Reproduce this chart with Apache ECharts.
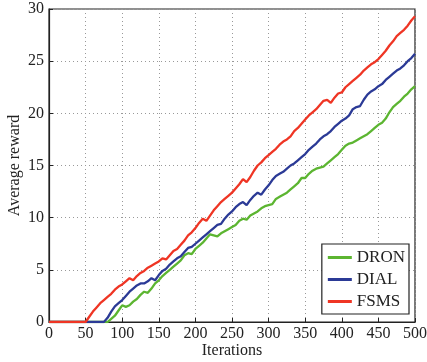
<!DOCTYPE html>
<html><head><meta charset="utf-8">
<script src="https://cdn.jsdelivr.net/npm/echarts@6/dist/echarts.min.js"></script>
<style>html,body{margin:0;padding:0;background:#fff}#c{width:427px;height:362px}</style>
</head><body><div id="c"></div>
<script>
var iterations = [0,5,10,15,20,25,30,35,40,45,50,55,60,65,70,75,80,85,90,95,100,105,110,115,120,125,130,135,140,145,150,155,160,165,170,175,180,185,190,195,200,205,210,215,220,225,230,235,240,245,250,255,260,265,270,275,280,285,290,295,300,305,310,315,320,325,330,335,340,345,350,355,360,365,370,375,380,385,390,395,400,405,410,415,420,425,430,435,440,445,450,455,460,465,470,475,480,485,490,495,500];
var dron = [0,0,0,0,0,0,0,0,0,0,0,0,0,0,0,0,0,0.3,0.6,1.1,1.6,1.45,1.6,1.95,2.2,2.6,2.9,2.8,3.2,3.7,4.0,4.4,4.7,5.0,5.3,5.6,5.9,6.4,6.6,6.5,7.0,7.3,7.6,8.0,8.4,8.3,8.2,8.5,8.7,8.9,9.1,9.3,9.7,9.9,9.8,10.2,10.4,10.6,10.9,11.1,11.2,11.3,11.8,12.0,12.2,12.4,12.7,13.0,13.3,13.8,13.8,14.2,14.5,14.7,14.8,14.9,15.2,15.5,15.8,16.1,16.5,16.9,17.1,17.2,17.4,17.6,17.8,18.0,18.3,18.6,18.9,19.1,19.5,20.1,20.6,20.9,21.2,21.6,21.9,22.3,22.6];
var dial = [0,0,0,0,0,0,0,0,0,0,0,0,0,0,0,0,0.4,1.0,1.5,1.8,2.1,2.5,2.9,3.2,3.5,3.7,3.7,3.9,4.2,4.0,4.5,4.9,5.1,5.5,5.8,6.1,6.3,6.7,7.1,7.2,7.5,7.8,8.1,8.4,8.7,9.0,9.3,9.4,9.9,10.3,10.6,11.0,11.3,11.5,11.2,11.7,12.1,12.4,12.2,12.7,13.1,13.6,14.0,14.2,14.4,14.7,15.0,15.2,15.5,15.8,16.1,16.5,16.8,17.1,17.5,17.8,18.0,18.3,18.7,19.0,19.3,19.5,19.8,20.4,20.6,20.7,21.3,21.8,22.1,22.3,22.6,22.8,23.2,23.5,23.8,24.1,24.3,24.6,25.0,25.3,25.7];
var fsms = [0,0,0,0,0,0,0,0,0,0,0,0.5,1.0,1.4,1.8,2.1,2.4,2.7,3.1,3.4,3.6,3.9,4.2,4.0,4.4,4.7,4.9,5.2,5.4,5.6,5.8,6.1,6.0,6.4,6.8,7.0,7.4,7.8,8.3,8.6,9.0,9.5,9.9,9.7,10.2,10.7,11.1,11.5,11.8,12.1,12.4,12.8,13.2,13.7,13.4,13.9,14.5,15.0,15.3,15.7,16.0,16.3,16.6,17.0,17.3,17.5,17.8,18.3,18.6,19.0,19.4,19.8,20.1,20.4,20.8,21.2,21.3,21.0,21.5,21.9,22.0,22.5,22.8,23.1,23.4,23.7,24.1,24.4,24.7,24.9,25.2,25.6,26.0,26.5,26.9,27.4,27.7,28.0,28.4,28.9,29.3];
var seriesNames = ['DRON','DIAL','FSMS'];
var seriesColors = ['#5cb531','#2b3a96','#ef3524'];

function pairs(v){ return iterations.map(function(x,i){ return [x, v[i]]; }); }
var font = 'Liberation Serif, Times New Roman, serif';
var chart = echarts.init(document.getElementById('c'));
var dataSets = [dron, dial, fsms];
chart.setOption({
  animation: false,
  backgroundColor: '#fff',
  grid: {left: 49, right: 12, top: 9, bottom: 40, containLabel: false, outerBoundsMode: 'none',
    show: true, borderColor: '#222', borderWidth: 1.2, backgroundColor: 'transparent'},
  xAxis: {
    type: 'value', min: 0, max: 500, interval: 50,
    name: 'Iterations', nameLocation: 'middle', nameGap: 21, nameMoveOverlap: false,
    nameTextStyle: {fontFamily: font, fontSize: 16, color: '#222'},
    axisLine: {show: true, lineStyle: {color: '#222', width: 1.2}},
    axisTick: {show: true, inside: true, length: 4, lineStyle: {color: '#222'}},
    axisLabel: {fontFamily: font, fontSize: 16, color: '#222', margin: 4},
    splitLine: {show: true, lineStyle: {color: '#999', type: [1, 3], width: 1}}
  },
  yAxis: {
    type: 'value', min: 0, max: 30, interval: 5,
    name: 'Average reward', nameLocation: 'middle', nameGap: 26, nameMoveOverlap: false,
    nameTextStyle: {fontFamily: font, fontSize: 16, color: '#222'},
    axisLine: {show: true, lineStyle: {color: '#222', width: 1.2}},
    axisTick: {show: true, inside: true, length: 4, lineStyle: {color: '#222'}},
    axisLabel: {fontFamily: font, fontSize: 16, color: '#222', margin: 5},
    splitLine: {show: true, lineStyle: {color: '#999', type: [1, 3], width: 1}}
  },
  legend: {
    orient: 'vertical', right: 18, bottom: 48,
    backgroundColor: '#fff', borderColor: '#222', borderWidth: 1.2,
    padding: [5, 4, 4, 6], itemGap: 5, itemWidth: 24, itemHeight: 3, icon: 'rect',
    textStyle: {fontFamily: font, fontSize: 17, color: '#222'},
    data: seriesNames
  },
  series: seriesNames.map(function(n, k){
    return {name: n, type: 'line', data: pairs(dataSets[k]), showSymbol: false, symbol: 'none',
      lineStyle: {color: seriesColors[k], width: 2.3}, itemStyle: {color: seriesColors[k]}, z: 2 + k};
  })
});
</script></body></html>
